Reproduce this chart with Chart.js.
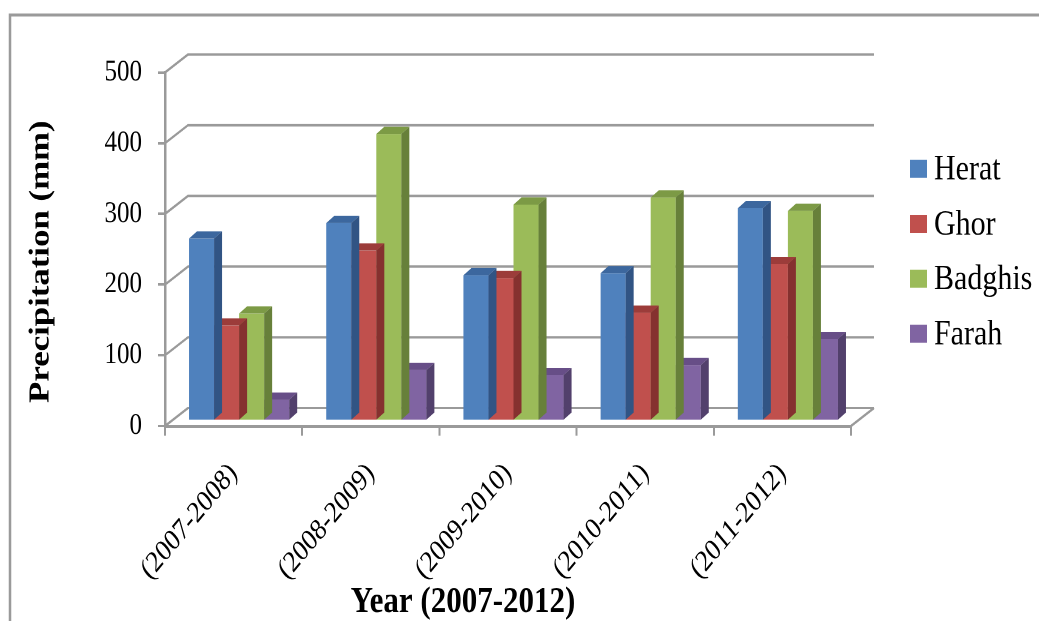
<!DOCTYPE html>
<html lang="en">

<head>
  <meta charset="UTF-8">
  <meta name="viewport" content="width=device-width, initial-scale=1.0">
  <title>Precipitation (mm)</title>
  <script src="https://cdn.jsdelivr.net/npm/chart.js"></script>
  <style>
    html, body { margin: 0; padding: 0; background: #fff; width: 1039px; height: 621px; overflow: hidden; }
    .pagina { width: 1039px; height: 621px; position: relative; overflow: hidden; }
    /* the chart is drawn on a shorter canvas and stretched vertically */
    .quadro { position: absolute; left: 0; top: 0; width: 1039px; height: 518px; transform: scaleY(1.2); transform-origin: 0 0; }
  </style>
</head>

<body>
  <div class="pagina">
    <div class="quadro">
      <canvas id="grafico"></canvas>
    </div>
  </div>

<script>
  // data
  const periodos = ['(2007-2008)', '(2008-2009)', '(2009-2010)', '(2010-2011)', '(2011-2012)'];
  const herat   = [258, 280, 206, 209, 301];
  const ghor    = [135, 241, 202, 153, 222];
  const badghis = [152, 406, 306, 316, 297];
  const farah   = [30, 72, 65, 79, 116];
  const valoresY = [0, 100, 200, 300, 400, 500];

  // colours: front, top, side
  const cores = {
    Herat:   ['#4f81bd', '#3c679e', '#315484'],
    Ghor:    ['#c0504d', '#9c3c3a', '#85312f'],
    Badghis: ['#9bbb59', '#7c9a45', '#67803a'],
    Farah:   ['#8064a2', '#674e87', '#52406c']
  };
  const corGrade = '#9a9a9a';
  const fonte = "'Liberation Serif', 'Times New Roman', serif";

  const fundo = { dx: 23, dy: -15 };       // back wall offset
  const planoBarras = { dx: 5.5, dy: -4.2 }; // bars stand a little behind the front axis
  const prof = { dx: 8, dy: -6 };           // depth of each bar

  // frame, back wall grid and left wall diagonals
  const cena3d = {
    id: 'cena3d',
    beforeDraw(chart) {
      const ctx = chart.ctx;
      ctx.save();
      ctx.strokeStyle = '#9a9a9a';
      ctx.lineWidth = 2.5;
      ctx.beginPath();
      ctx.moveTo(10, chart.height + 5);
      ctx.lineTo(10, 12.5);
      ctx.lineTo(chart.width + 5, 12.5);
      ctx.stroke();
      ctx.restore();
    },
    beforeDatasetsDraw(chart) {
      const ctx = chart.ctx;
      const x = chart.scales.x;
      const y = chart.scales.y;
      ctx.save();
      ctx.strokeStyle = corGrade;
      ctx.lineWidth = 2;
      ctx.beginPath();
      y.ticks.forEach(function (t) {
        const py = y.getPixelForValue(t.value);
        ctx.moveTo(x.left, py);
        ctx.lineTo(x.left + fundo.dx, py + fundo.dy);
        ctx.lineTo(x.right + fundo.dx, py + fundo.dy);
      });
      const base = y.getPixelForValue(0);
      ctx.moveTo(x.right, base);
      ctx.lineTo(x.right + fundo.dx, base + fundo.dy);
      ctx.stroke();
      ctx.restore();

      // bars are drawn shifted into the box
      ctx.save();
      ctx.translate(planoBarras.dx, planoBarras.dy);
    },
    afterDatasetDraw(chart, args) {
      const ctx = chart.ctx;
      const ds = chart.data.datasets[args.index];
      const c = cores[ds.label];
      args.meta.data.forEach(function (barra) {
        const p = barra.getProps(['x', 'y', 'base', 'width'], true);
        const esq = p.x - p.width / 2;
        const dir = p.x + p.width / 2;
        // top
        ctx.fillStyle = c[1];
        ctx.beginPath();
        ctx.moveTo(esq, p.y);
        ctx.lineTo(esq + prof.dx, p.y + prof.dy);
        ctx.lineTo(dir + prof.dx, p.y + prof.dy);
        ctx.lineTo(dir, p.y);
        ctx.closePath();
        ctx.fill();
        // right side
        ctx.fillStyle = c[2];
        ctx.beginPath();
        ctx.moveTo(dir, p.y);
        ctx.lineTo(dir + prof.dx, p.y + prof.dy);
        ctx.lineTo(dir + prof.dx, p.base + prof.dy);
        ctx.lineTo(dir, p.base);
        ctx.closePath();
        ctx.fill();
      });
    },
    afterDatasetsDraw(chart) {
      chart.ctx.restore();
    },
    afterDraw(chart) {
      const ctx = chart.ctx;
      ctx.save();
      ctx.fillStyle = '#000';

      // axis titles
      ctx.font = 'bold 29px ' + fonte;
      ctx.textAlign = 'center';
      ctx.textBaseline = 'middle';
      ctx.save();
      ctx.translate(41, 218);
      ctx.rotate(-Math.PI / 2);
      ctx.fillText('Precipitation (mm)', 0, 0);
      ctx.restore();
      ctx.font = 'bold 31px ' + fonte;
      ctx.fillText('Year (2007-2012)', 463, 502);

      // legend
      ctx.font = '30px ' + fonte;
      ctx.textAlign = 'left';
      chart.data.datasets.forEach(function (ds, i) {
        const cy = 140.7 + i * 45.8;
        ctx.fillStyle = ds.backgroundColor;
        ctx.fillRect(910, cy - 7.5, 17, 15);
        ctx.fillStyle = '#000';
        ctx.fillText(ds.label, 934, cy + 1);
      });
      ctx.restore();
    }
  };

  function serie(nome, valores) {
    return {
      label: nome,
      data: valores,
      backgroundColor: cores[nome][0],
      borderWidth: 0,
      categoryPercentage: 0.73,
      barPercentage: 1,
      clip: false
    };
  }

  Chart.defaults.font.family = fonte;

  new Chart(document.getElementById('grafico'), {
    type: 'bar',
    data: {
      labels: periodos,
      datasets: [
        serie('Herat', herat),
        serie('Ghor', ghor),
        serie('Badghis', badghis),
        serie('Farah', farah)
      ]
    },
    options: {
      responsive: true,
      maintainAspectRatio: false,
      devicePixelRatio: 2,
      animation: false,
      events: [],
      layout: { padding: { top: 60.4, right: 188, left: 0, bottom: 0 } },
      plugins: {
        legend: { display: false },
        tooltip: { enabled: false }
      },
      scales: {
        x: {
          offset: true,
          grid: { offset: true, drawOnChartArea: false, tickLength: 8, color: corGrade, lineWidth: 2 },
          border: { display: true, color: corGrade, width: 2.5 },
          ticks: {
            autoSkip: false,
            minRotation: 45,
            maxRotation: 45,
            padding: 17,
            color: '#000',
            font: { size: 25 }
          },
          afterFit: function (s) { s.height = 163; }
        },
        y: {
          min: 0,
          max: 500,
          afterBuildTicks: function (s) { s.ticks = valoresY.map(v => ({ value: v })); },
          grid: { drawOnChartArea: false, tickLength: 7, color: corGrade, lineWidth: 2 },
          border: { display: true, color: corGrade, width: 2.5 },
          ticks: { padding: 16, color: '#000', font: { size: 25 } },
          afterFit: function (s) { s.width = 165; }
        }
      }
    },
    plugins: [cena3d]
  });
</script>

</body>

</html>
